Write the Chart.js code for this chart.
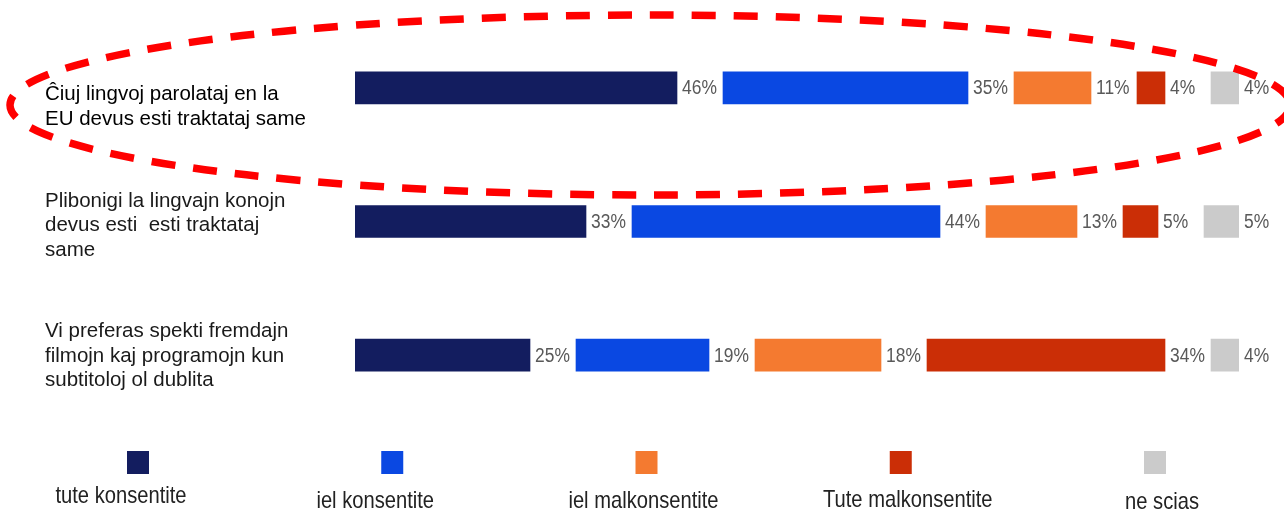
<!DOCTYPE html>
<html>
<head>
<meta charset="utf-8">
<script src="https://cdn.jsdelivr.net/npm/chart.js@4.4.1/dist/chart.umd.min.js"></script>
<style>
    body { margin: 0; background: #fff; }
    #wrap { width: 1284px; height: 510px; }
</style>
</head>
<body>
<div id="wrap"><canvas id="chart" width="1284" height="510"></canvas></div>
<script>
// data
const categories = [
    ["Ĉiuj lingvoj parolataj en la", "EU devus esti traktataj same"],
    ["Plibonigi la lingvajn konojn", "devus esti  esti traktataj", "same"],
    ["Vi preferas spekti fremdajn", "filmojn kaj programojn kun", "subtitoloj ol dublita"]
];
const seriesNames = ["tute konsentite", "iel konsentite", "iel malkonsentite", "Tute malkonsentite", "ne scias"];
const tuteKonsentite = [46, 33, 25];
const ielKonsentite = [35, 44, 19];
const ielMalkonsentite = [11, 13, 18];
const tuteMalkonsentite = [4, 5, 34];
const neScias = [4, 5, 4];
const colors = ["#131d5f", "#0a48e2", "#f47a30", "#cb2e06", "#cbcbcb"];

const allSeries = [tuteKonsentite, ielKonsentite, ielMalkonsentite, tuteMalkonsentite, neScias];
const GAP = 46 / 7; // room left after each segment for its label

// floating bars: each segment starts after the previous ones plus a gap
let datasets = allSeries.map(function(values, s) {
    return {
        label: seriesNames[s],
        data: values.map(function(v, r) {
            let start = 0;
            for (let k = 0; k < s; k++) start += allSeries[k][r];
            start += s * GAP;
            return [start, start + v];
        }),
        values: values,
        backgroundColor: colors[s],
        borderWidth: 0,
        barThickness: 32
    };
});

// no narrow font installed, so squeeze the text a bit
function narrowText(ctx, text, x, y, squeeze) {
    ctx.save();
    ctx.translate(x, y);
    ctx.scale(squeeze, 1);
    ctx.fillText(text, 0, 0);
    ctx.restore();
}

const labelsPlugin = {
    id: "labels",
    afterDatasetsDraw(chart) {
        const ctx = chart.ctx;
        ctx.save();
        ctx.font = "20.5px 'Liberation Sans', Arial, sans-serif";
        ctx.fillStyle = "#595959";
        ctx.textBaseline = "middle";
        chart.data.datasets.forEach(function(ds, i) {
            chart.getDatasetMeta(i).data.forEach(function(bar, j) {
                narrowText(ctx, ds.values[j] + "%", bar.x + 5, bar.y + 1, 0.85);
            });
        });

        // category text on the left
        const offsets = [19, 4, 1];
        ctx.font = "20.5px 'Liberation Sans', Arial, sans-serif";
        ctx.textBaseline = "middle";
        categories.forEach(function(lines, r) {
            const y = chart.scales.y.getPixelForValue(r) + offsets[r];
            ctx.fillStyle = r === 0 ? "#000" : "#1a1a1a";
            lines.forEach(function(line, k) {
                ctx.fillText(line, 45, y + (k - (lines.length - 1) / 2) * 24.5);
            });
        });
        ctx.restore();
    },
    afterDraw(chart) {
        const ctx = chart.ctx;
        ctx.save();

        // legend
        const dx = [-17, -17, -3, 7, 7];
        const ty = [496, 501, 501, 500, 502];
        ctx.font = "24px 'Liberation Sans', Arial, sans-serif";
        ctx.textAlign = "center";
        ctx.textBaseline = "middle";
        seriesNames.forEach(function(name, i) {
            const cx = 138 + i * 254.25;
            ctx.fillStyle = colors[i];
            ctx.fillRect(cx - 11, 451, 22, 23);
            ctx.fillStyle = "#222";
            narrowText(ctx, name, cx + dx[i], ty[i], 0.84);
        });

        // red dashed highlight around the first row
        ctx.beginPath();
        ctx.ellipse(650, 105, 640, 90, 0, 0, Math.PI * 2);
        ctx.setLineDash([24, 18]);
        ctx.lineWidth = 7.5;
        ctx.strokeStyle = "#ff0000";
        ctx.stroke();
        ctx.restore();
    }
};

new Chart(document.getElementById("chart"), {
    type: "bar",
    data: {
        labels: categories,
        datasets: datasets
    },
    options: {
        indexAxis: "y",
        responsive: false,
        animation: false,
        layout: {
            padding: { left: 355, right: 45, top: 21, bottom: 88 }
        },
        plugins: {
            legend: { display: false },
            tooltip: { enabled: false }
        },
        scales: {
            x: {
                display: false,
                min: 0,
                max: 100 + 4 * GAP
            },
            y: {
                display: false,
                stacked: true
            }
        }
    },
    plugins: [labelsPlugin]
});
</script>
</body>
</html>
